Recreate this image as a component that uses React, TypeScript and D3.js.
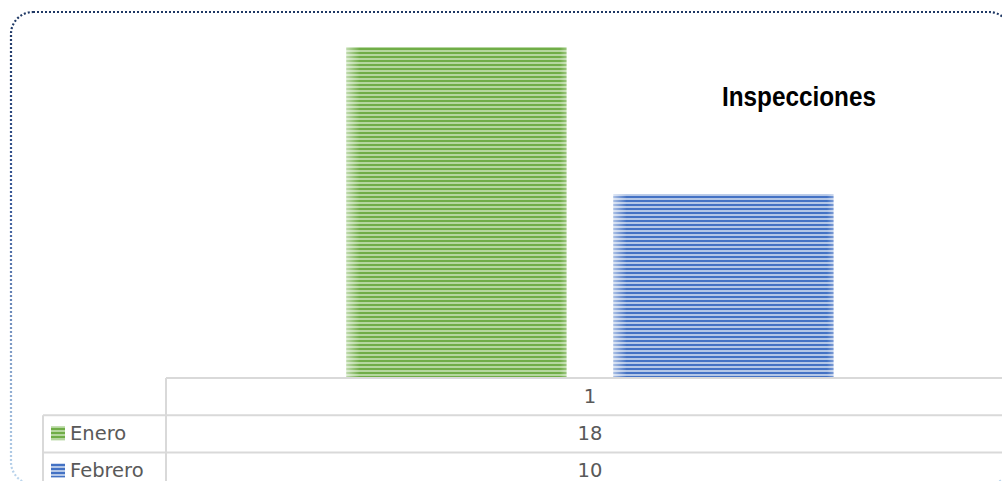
import * as d3 from 'd3';
import React from 'react';

const categories = ['1'];
const seriesNames = ['Enero', 'Febrero'];
const seriesValues = [18, 10];
const chartTitle = 'Inspecciones';

const W = 1002;
const H = 481;

const palette = [
  { dark: '#70ad47', light: '#b5d79f' },
  { dark: '#4472c4', light: '#b4c7e7' },
];

const App: React.FC = () => {
  // Plot area / table geometry
  const tableLeft = 166;
  const tableRight = 1014;
  const labelLeft = 43;
  const baseY = 378;
  const rowH = 37.2;

  const x0 = d3.scaleBand<string>().domain(categories).range([tableLeft, tableRight]);
  const x1 = d3
    .scaleBand<string>()
    .domain(seriesNames)
    .range([0, x0.bandwidth()])
    .paddingInner(0.176)
    .paddingOuter(0.676);
  const y = d3.scaleLinear().domain([0, 18]).range([baseY, 47]);

  const rows = [baseY, baseY + rowH, baseY + rowH * 2, baseY + rowH * 3];
  const textFont = "'DejaVu Sans', sans-serif";
  const textSize = 19.5;
  const textDy = 24.5;

  return (
    <svg
      width={W}
      height={H}
      style={{ position: 'fixed', left: 0, top: 0, display: 'block', background: '#fff' }}
    >
      <defs>
        {palette.map((p, i) => (
          <pattern
            key={i}
            id={`stripes${i}`}
            width={4}
            height={4}
            patternUnits="userSpaceOnUse"
          >
            <rect width={4} height={4} fill={p.light} />
            <rect width={4} height={2} fill={p.dark} />
          </pattern>
        ))}
        <linearGradient id="edgeFade" x1="0" x2="1" y1="0" y2="0">
          <stop offset="0" stopColor="#fff" stopOpacity={0.55} />
          <stop offset="0.06" stopColor="#fff" stopOpacity={0} />
          <stop offset="0.97" stopColor="#fff" stopOpacity={0} />
          <stop offset="1" stopColor="#fff" stopOpacity={0.3} />
        </linearGradient>
        <linearGradient id="borderGrad" gradientUnits="userSpaceOnUse" x1="0" x2="0" y1="12" y2="484">
          <stop offset="0" stopColor="#1f3864" />
          <stop offset="0.4" stopColor="#3a5a9a" />
          <stop offset="1" stopColor="#bdd7ee" />
        </linearGradient>
      </defs>

      {/* marco punteado */}
      <rect
        x={11}
        y={12}
        width={1000}
        height={472}
        rx={22}
        ry={22}
        fill="none"
        stroke="url(#borderGrad)"
        strokeWidth={2.2}
        strokeDasharray="2 2"
      />

      {/* barras */}
      {categories.map((c) => (
        <g key={c} transform={`translate(${x0(c)},0)`}>
          {seriesNames.map((s, i) => (
            <g key={s}>
              <rect
                x={x1(s)}
                y={y(seriesValues[i])}
                width={x1.bandwidth()}
                height={y(0) - y(seriesValues[i])}
                fill={`url(#stripes${i})`}
              />
              <rect
                x={x1(s)}
                y={y(seriesValues[i])}
                width={x1.bandwidth()}
                height={y(0) - y(seriesValues[i])}
                fill="url(#edgeFade)"
              />
            </g>
          ))}
        </g>
      ))}

      {/* título */}
      <text
        x={799}
        y={106}
        textAnchor="middle"
        fontFamily="'Liberation Sans', Arial, sans-serif"
        fontWeight="bold"
        fontSize={27}
        textLength={154}
        lengthAdjust="spacingAndGlyphs"
        fill="#000"
      >
        {chartTitle}
      </text>

      {/* tabla de datos */}
      <g stroke="#d9d9d9" strokeWidth={2} fill="none">
        <line x1={tableLeft} x2={W + 10} y1={rows[0]} y2={rows[0]} />
        <line x1={labelLeft} x2={W + 10} y1={rows[1]} y2={rows[1]} />
        <line x1={labelLeft} x2={W + 10} y1={rows[2]} y2={rows[2]} />
        <line x1={labelLeft} x2={W + 10} y1={rows[3]} y2={rows[3]} />
        <line x1={tableLeft} x2={tableLeft} y1={rows[0]} y2={H + 10} />
        <line x1={labelLeft} x2={labelLeft} y1={rows[1]} y2={H + 10} />
      </g>

      {categories.map((c) => (
        <text
          key={c}
          x={(x0(c) as number) + x0.bandwidth() / 2}
          y={rows[0] + textDy}
          textAnchor="middle"
          fontFamily={textFont}
          fontSize={textSize}
          fill="#595959"
        >
          {c}
        </text>
      ))}

      {seriesNames.map((s, i) => (
        <g key={s}>
          <rect
            x={51}
            y={rows[i + 1] + 11}
            width={14}
            height={14}
            fill={`url(#stripes${i})`}
          />
          <text
            x={70}
            y={rows[i + 1] + textDy}
            fontFamily={textFont}
            fontSize={textSize}
            fill="#595959"
          >
            {s}
          </text>
          {categories.map((c) => (
            <text
              key={c}
              x={(x0(c) as number) + x0.bandwidth() / 2}
              y={rows[i + 1] + textDy}
              textAnchor="middle"
              fontFamily={textFont}
              fontSize={textSize}
              fill="#595959"
            >
              {seriesValues[i]}
            </text>
          ))}
        </g>
      ))}
    </svg>
  );
};

export default App;
